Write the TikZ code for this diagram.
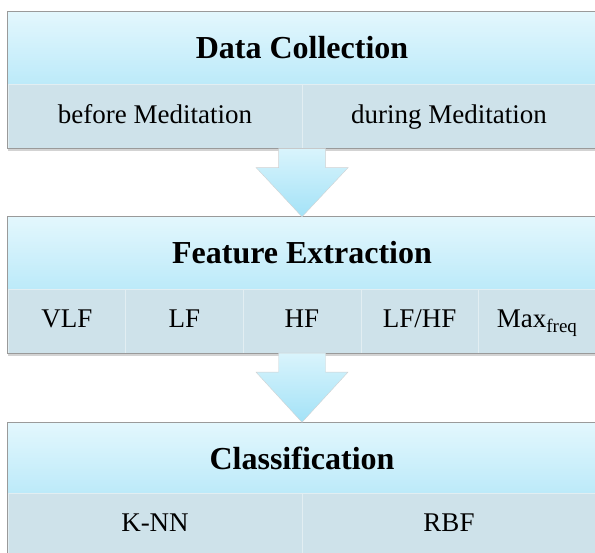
\documentclass[tikz,border=0pt]{standalone}
\usepackage{fontspec}
\setmainfont{Liberation Serif}
\usepackage{tikz}
\usetikzlibrary{positioning,calc,backgrounds,shadows}

\definecolor{headtop}{HTML}{E3F7FD}
\definecolor{headbot}{HTML}{BCEAF9}
\definecolor{bandfill}{HTML}{CEE2EA}
\definecolor{arrowtop}{HTML}{D9F4FC}
\definecolor{arrowbot}{HTML}{A3E2F7}
\definecolor{rimgray}{HTML}{9A9A9A}

\tikzset{
  head/.style={rectangle,minimum width=588pt,minimum height=72pt,inner sep=0pt,
    top color=headtop,bottom color=headbot,font=\bfseries\fontsize{32}{32}\selectfont},
  cell/.style={rectangle,minimum height=64pt,inner sep=0pt,fill=bandfill,
    text height=18pt,text depth=4pt,
    draw=bandfill!60!white,line width=0.3pt,font=\fontsize{27}{27}\selectfont},
  rim/.style={draw=rimgray,line width=0.8pt,
    drop shadow={shadow xshift=0pt,shadow yshift=-2.5pt,opacity=0.35}},
  arrowfill/.style={top color=arrowtop,bottom color=arrowbot,draw=gray!35,line width=0.4pt}
}

\newcommand{\blockarrow}[2]{%
  \path[arrowfill] let \p1=(#1), \p2=(#2) in
    (\x1-23.5pt,\y1) -- (\x1+23.5pt,\y1) -- (\x1+23.5pt,\y1-19pt) -- (\x1+46pt,\y1-19pt)
    -- (\x2,\y2) -- (\x1-46pt,\y1-19pt) -- (\x1-23.5pt,\y1-19pt) -- cycle;}

\begin{document}
\begin{tikzpicture}[x=1pt,y=-1pt]
  \useasboundingbox (0,0) rectangle (595,553);
  % data collection
  \node[head] (dc) at (302,48) {Data Collection};
  \node[cell,minimum width=294pt] (dc1) at (155,116.5) {before Meditation};
  \node[cell,minimum width=294pt] (dc2) at (449,116.5) {during Meditation};
  % feature extraction
  \node[head] (fe) at (302,253) {Feature Extraction};
  \foreach \t [count=\i] in {VLF,LF,HF,LF/HF,Max\textsubscript{\fontsize{19}{19}\selectfont freq}}
    {\node[cell,minimum width=117.6pt] (fe\i) at ({8+117.6*(\i-0.5)},321) {\t};}
  % classification
  \node[head,minimum height=71pt] (cl) at (302,458) {Classification};
  \node[cell,minimum width=294pt,minimum height=70pt] (cl1) at (155,528) {\raisebox{3pt}{K-NN}};
  \node[cell,minimum width=294pt,minimum height=70pt] (cl2) at (449,528) {\raisebox{3pt}{RBF}};
  % frames and shadows
  \begin{scope}[on background layer]
    \draw[rim] (dc.north west) rectangle (dc2.south east);
    \draw[rim] (fe.north west) rectangle (fe5.south east);
    \draw[rim] (cl.north west) rectangle (cl2.south east);
  \end{scope}
  \draw[rimgray,line width=0.8pt] (dc.north west) rectangle (dc2.south east);
  \draw[rimgray,line width=0.8pt] (fe.north west) rectangle (fe5.south east);
  \draw[rimgray,line width=0.8pt] (cl.north west) rectangle (cl2.south east);
  % arrows
  \blockarrow{dc1.south east}{fe.north}
  \blockarrow{fe3.south}{cl.north}
\end{tikzpicture}
\end{document}
